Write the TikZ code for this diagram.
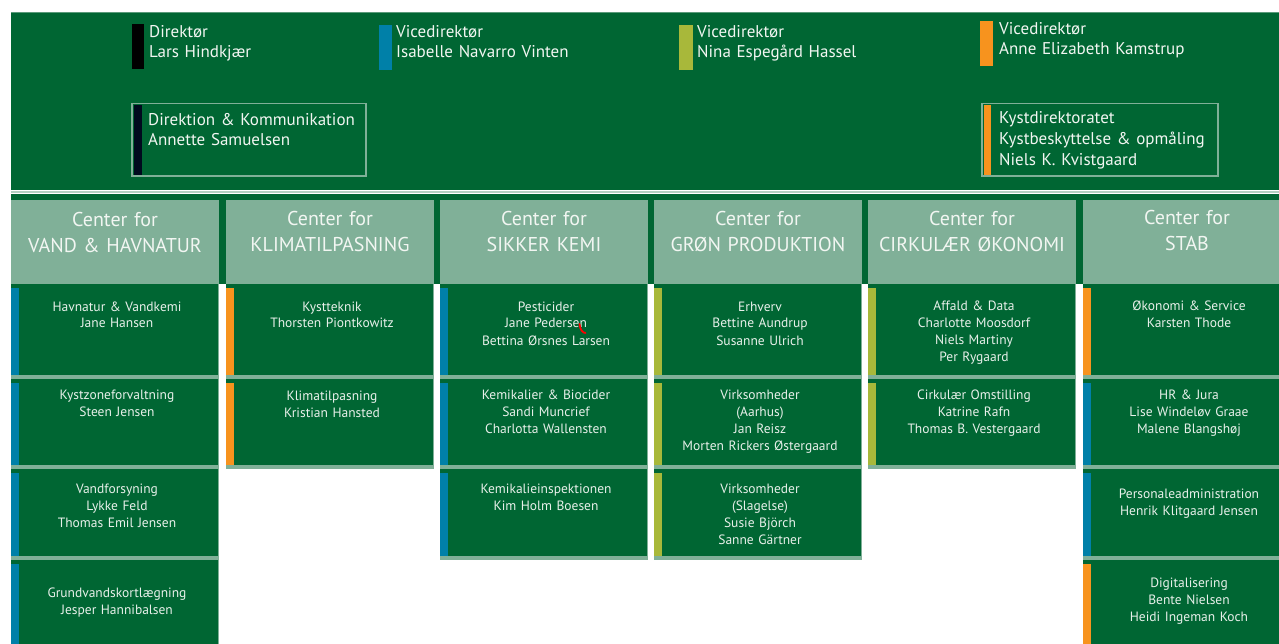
\documentclass[tikz,border=0pt]{standalone}
\usepackage{fontspec}
\setmainfont{PT Sans}
\definecolor{dg}{HTML}{006633}
\definecolor{lg}{HTML}{80B098}
\definecolor{cblue}{HTML}{0080A8}
\definecolor{corange}{HTML}{F7931E}
\definecolor{colive}{HTML}{A8B83A}
\definecolor{cnavy}{HTML}{000A1E}
\definecolor{txt}{HTML}{E8F0EA}
\definecolor{htxt}{HTML}{F2F6F2}
\newcommand\orgbox[7]{%
  \fill[dg] (#2,#3) rectangle (#2+208,#4);
  \fill[#5] (#2,#3+4) rectangle (#2+8,#4);
  \fill[lg] (#2+207,#3) rectangle (#2+208,#4);
  \fill[lg] (#2,#4) rectangle (#2+208,#4+4);
  \node[boxtext] (#1) at (#2+106,#6) {#7};
}
\newcommand\orghead[4]{%
  \fill[lg] (#2,200) rectangle (#2+208,284);
  \node[hdrtext] (#1) at (#2+104,#3) {Center for\\#4};
}
\begin{document}
\begin{tikzpicture}[x=1pt,y=-1pt,
  boxtext/.style={text=txt, font=\fontsize{13.5}{17}\selectfont, text width=200pt, align=center, inner sep=0pt, anchor=base},
  hdrtext/.style={text=htxt, font=\fontsize{20}{26}\selectfont, text width=208pt, align=center, inner sep=0pt, anchor=base},
  toptext/.style={text=htxt, font=\fontsize{17}{20}\selectfont, text width=260pt, align=left, inner sep=0pt, anchor=base west},
  framebox/.style={draw=lg, line width=1.5pt}]
\useasboundingbox (0,0) rectangle (1279,644);
\fill[white] (0,0) rectangle (1279,644);
% top band
\fill[dg] (11,12) rectangle (1279,190);
\draw[lg!70!dg, line width=0.8pt] (11,12.4) -- (1279,12.4);
\fill[lg!60!white] (11,191.5) rectangle (1279,193.5);
\fill[dg] (11,194) rectangle (1279,284);
% leaders
\fill[black] (132,24) rectangle (144,69);
\node[toptext] (dir) at (149,38) {Direktør\\Lars Hindkjær};
\fill[cblue] (379,25) rectangle (392,70);
\node[toptext] (vd1) at (396,38) {Vicedirektør\\Isabelle Navarro Vinten};
\fill[colive] (679,25) rectangle (693,70);
\node[toptext] (vd2) at (697,38) {Vicedirektør\\Nina Espegård Hassel};
\fill[corange] (980,21) rectangle (993,66);
\node[toptext] (vd3) at (999,35) {Vicedirektør\\Anne Elizabeth Kamstrup};
% staff boxes
\draw[framebox] (132,103.5) rectangle (366,176);
\fill[cnavy] (134,105) rectangle (142,175);
\node[toptext] (dk) at (148,126) {Direktion \& Kommunikation\\Annette Samuelsen};
\draw[framebox] (982,103.5) rectangle (1218,176);
\fill[corange] (983.5,105) rectangle (991,175);
\node[toptext, font=\fontsize{17}{21}\selectfont] (kd) at (999,124) {Kystdirektoratet\\Kystbeskyttelse \& opmåling\\Niels K. Kvistgaard};
% headers
\orghead{h1}{11}{226.5}{VAND \& HAVNATUR}
\orghead{h2}{226}{226}{KLIMATILPASNING}
\orghead{h3}{440}{226}{SIKKER KEMI}
\orghead{h4}{654}{226}{GRØN PRODUKTION}
\orghead{h5}{868}{226}{CIRKULÆR ØKONOMI}
\orghead{h6}{1083}{224.5}{STAB}
% column 1
\orgbox{a1}{11}{284}{375}{cblue}{311}{Havnatur \& Vandkemi\\Jane Hansen}
\orgbox{a2}{11}{379}{465}{cblue}{399.5}{Kystzoneforvaltning\\Steen Jensen}
\orgbox{a3}{11}{469}{556}{cblue}{493}{Vandforsyning\\Lykke Feld\\Thomas Emil Jensen}
\orgbox{a4}{11}{560}{660}{cblue}{597}{Grundvandskortlægning\\Jesper Hannibalsen}
% column 2
\orgbox{b1}{226}{284}{375}{corange}{311}{Kystteknik\\Thorsten Piontkowitz}
\orgbox{b2}{226}{379}{465}{corange}{400.5}{Klimatilpasning\\Kristian Hansted}
% column 3
\orgbox{c1}{440}{284}{375}{cblue}{311}{Pesticider\\Jane Pedersen\\Bettina Ørsnes Larsen}
\orgbox{c2}{440}{379}{465}{cblue}{399.5}{Kemikalier \& Biocider\\Sandi Muncrief\\Charlotta Wallensten}
\orgbox{c3}{440}{469}{556}{cblue}{493}{Kemikalieinspektionen\\Kim Holm Boesen}
% column 4
\orgbox{d1}{654}{284}{375}{colive}{311}{Erhverv\\Bettine Aundrup\\Susanne Ulrich}
\orgbox{d2}{654}{379}{465}{colive}{399.5}{Virksomheder\\(Aarhus)\\Jan Reisz\\Morten Rickers Østergaard}
\orgbox{d3}{654}{469}{556}{colive}{493}{Virksomheder\\(Slagelse)\\Susie Björch\\Sanne Gärtner}
% column 5
\orgbox{e1}{868}{284}{375}{colive}{310}{Affald \& Data\\Charlotte Moosdorf\\Niels Martiny\\Per Rygaard}
\orgbox{e2}{868}{379}{465}{colive}{399.5}{Cirkulær Omstilling\\Katrine Rafn\\Thomas B. Vestergaard}
% column 6
\orgbox{f1}{1083}{284}{375}{corange}{310}{Økonomi \& Service\\Karsten Thode}
\orgbox{f2}{1083}{379}{465}{cblue}{399.5}{HR \& Jura\\Lise Windeløv Graae\\Malene Blangshøj}
\orgbox{f3}{1083}{469}{556}{cblue}{498}{Personaleadministration\\Henrik Klitgaard Jensen}
\orgbox{f4}{1083}{560}{660}{corange}{587}{Digitalisering\\Bente Nielsen\\Heidi Ingeman Koch}
% red mark
\draw[red, line width=1.8pt, line cap=round] (579.5,324) .. controls (580,330) and (583,333) .. (585.5,333);
\end{tikzpicture}
\end{document}
